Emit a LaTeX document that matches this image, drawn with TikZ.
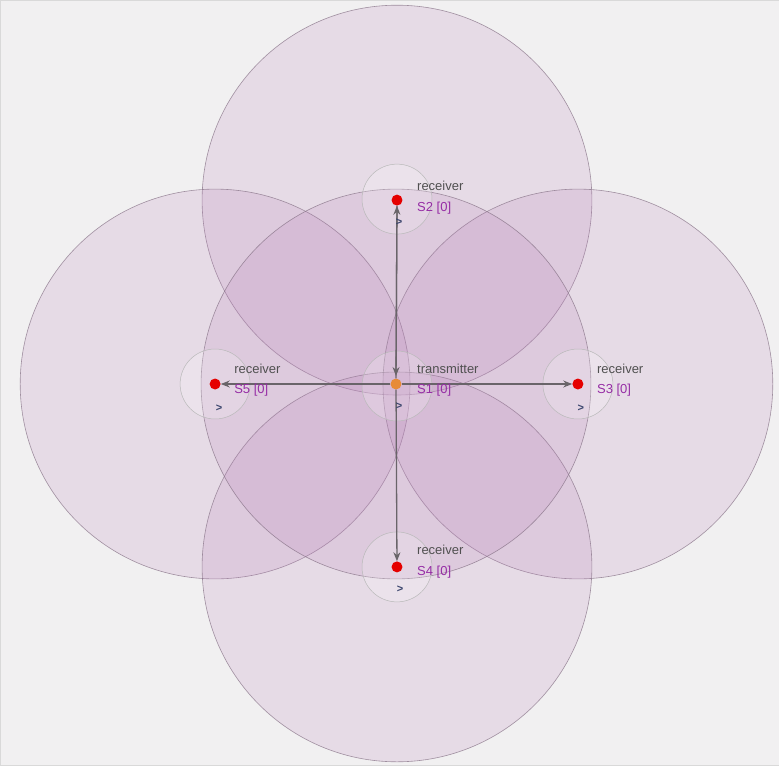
\documentclass[tikz,border=0pt]{standalone}
\usepackage{fontspec}
\setmainfont{Liberation Sans}
\usetikzlibrary{arrows.meta}
\definecolor{bg}{RGB}{241,240,241}
\definecolor{rangefill}{RGB}{185,130,185}
\definecolor{rangeline}{RGB}{135,115,135}
\definecolor{linkcol}{RGB}{105,100,105}
\definecolor{idcol}{RGB}{150,45,165}
\definecolor{kindcol}{RGB}{80,80,80}
\definecolor{dircol}{RGB}{60,70,110}
\begin{document}
\begin{tikzpicture}[x=1pt,y=-1pt,
  radiodisc/.style={draw=rangeline,draw opacity=0.75,line width=0.6pt,fill=rangefill,fill opacity=0.19},
  zonedisc/.style={draw=gray!55,line width=0.5pt,fill=white,fill opacity=0.2},
  mote/.style={circle,fill=red!90!black,minimum size=11pt,inner sep=0pt},
  sink/.style={circle,fill=orange!70!brown,fill opacity=0.8,minimum size=11pt,inner sep=0pt},
  link/.style={draw=linkcol,line width=1.3pt,-{Stealth[length=9pt,width=7pt]}},
  kind/.style={anchor=west,text=kindcol,font=\fontsize{13}{15}\selectfont,inner sep=0pt},
  ident/.style={anchor=west,text=idcol,font=\fontsize{13}{15}\selectfont,inner sep=0pt},
  dir/.style={text=dircol,font=\fontsize{11}{12}\selectfont\bfseries,inner sep=0pt}]
% canvas
\fill[bg,draw=gray!30] (0,0) rectangle (779,765);
\useasboundingbox (0,0) rectangle (779,765);
% radio ranges
\foreach \x/\y in {397/200, 215/384, 578/384, 397/567, 396/384}
  \path[radiodisc] (\x,\y) circle (195);
% local zones
\foreach \x/\y in {397/199, 215/384, 578/384, 397/567, 397/386}
  \path[zonedisc] (\x,\y) circle (35);
% motes
\node[sink] (s1) at (396,384) {};
\node[mote] (s2) at (397,200) {};
\node[mote] (s3) at (578,384) {};
\node[mote] (s4) at (397,567) {};
\node[mote] (s5) at (215,384) {};
\coordinate (t1) at (396,376);
% links
\draw[link] (s2) -- (t1);
\draw[link] (s1) -- (s2);
\draw[link] (s1) -- (s3);
\draw[link] (s1) -- (s4);
\draw[link] (s1) -- (s5);
% labels
\node[kind] (k1) at (417,369) {transmitter};
\node[ident] (i1) at (417,390) {S1 [0]};
\node[kind] (k2) at (417,186) {receiver};
\node[ident] (i2) at (417,208) {S2 [0]};
\node[kind] (k3) at (597,369) {receiver};
\node[ident] (i3) at (597,390) {S3 [0]};
\node[kind] (k4) at (417,550) {receiver};
\node[ident] (i4) at (417,572) {S4 [0]};
\node[kind] (k5) at (234,369) {receiver};
\node[ident] (i5) at (234,390) {S5 [0]};
% heading markers
\node[dir] (d1) at (399,406) {>};
\node[dir] (d2) at (399,222) {>};
\node[dir] (d3) at (581,408) {>};
\node[dir] (d4) at (400,589) {>};
\node[dir] (d5) at (219,408) {>};
\end{tikzpicture}
\end{document}
